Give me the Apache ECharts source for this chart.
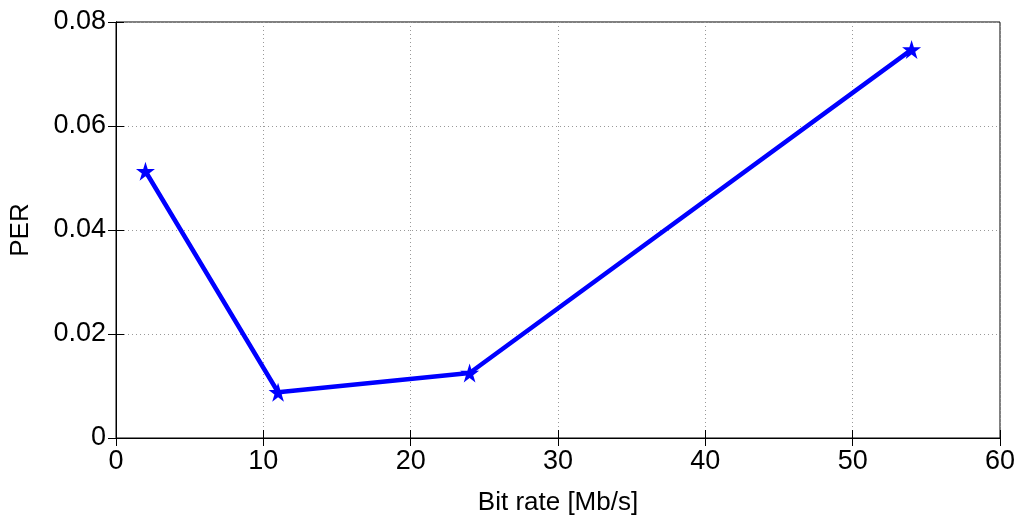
<!DOCTYPE html>
<html><head><meta charset="utf-8">
<script src="https://cdn.jsdelivr.net/npm/echarts@6/dist/echarts.min.js"></script>
<style>html,body{margin:0;padding:0;background:#fff}#c{width:1024px;height:521px}</style>
</head><body><div id="c"></div>
<script>
const xValues = [2, 11, 24, 54];
const perValues = [0.0513, 0.0088, 0.0125, 0.0747];
const chart = echarts.init(document.getElementById('c'));
const star = 'path://M50,0 L61.8,35.5 L100,35.5 L69.1,57.6 L80.9,93.1 L50,71 L19.1,93.1 L30.9,57.6 L0,35.5 L38.2,35.5 Z';
const font = 'Liberation Sans, Arial, sans-serif';
const ax = {
  axisLine:{show:true,lineStyle:{color:'#000',width:1}},
  axisTick:{show:true,inside:true,length:8,lineStyle:{color:'#000'}},
  splitLine:{show:true,lineStyle:{color:'#999',type:[1,3],width:1}},
  axisLabel:{color:'#000',fontSize:27,fontFamily:font,margin:10}
};
chart.setOption({
  animation:false,
  grid:{left:113,right:24,top:22,bottom:78,show:true,borderColor:'#000',borderWidth:1},
  xAxis:[Object.assign({type:'value',min:0,max:60,interval:10,name:'Bit rate [Mb/s]',nameLocation:'middle',nameGap:52,
    nameTextStyle:{color:'#000',fontSize:26,fontFamily:font}},ax),
    {type:'value',position:'top',min:0,max:60,interval:10,axisLine:{show:true,lineStyle:{color:'#000'}},axisTick:{show:true,inside:true,length:8,lineStyle:{color:'#000'}},axisLabel:{show:false},splitLine:{show:false}}],
  yAxis:[Object.assign({type:'value',min:0,max:0.08,interval:0.02,name:'PER',nameLocation:'middle',nameGap:82,
    nameTextStyle:{color:'#000',fontSize:26,fontFamily:font},
    axisLabel:Object.assign({},ax.axisLabel,{formatter:v=>v===0?'0':v.toFixed(2)})},
    {axisLine:ax.axisLine,axisTick:ax.axisTick,splitLine:ax.splitLine}),
    {type:'value',position:'right',min:0,max:0.08,interval:0.02,axisLine:{show:true,lineStyle:{color:'#000'}},axisTick:{show:true,inside:true,length:8,lineStyle:{color:'#000'}},axisLabel:{show:false},splitLine:{show:false}}],
  series:[{type:'line',data:xValues.map((x,i)=>[x,perValues[i]]),symbol:star,symbolSize:19,
    lineStyle:{color:'#0000ff',width:4.5},itemStyle:{color:'#0000ff'}}]
});
</script></body></html>
